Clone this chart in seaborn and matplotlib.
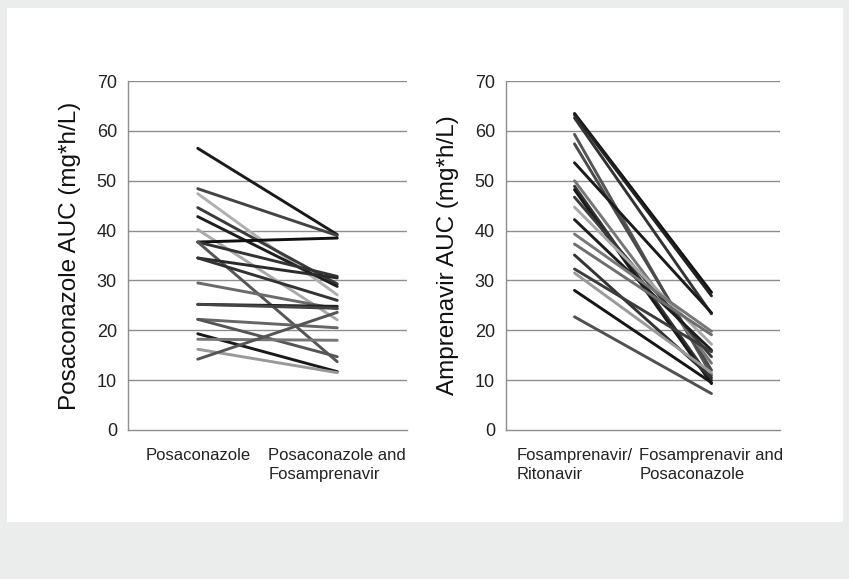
import pandas as pd
import matplotlib
matplotlib.use("Agg")
import matplotlib.pyplot as plt
import seaborn as sns
from matplotlib.patches import Rectangle

# values
left_conditions = ["Posaconazole", "Posaconazole and\nFosamprenavir"]
left_before = [56.5, 48.4, 47.4, 44.6, 42.8, 40.2, 37.7, 37.7, 37.7, 34.5,
               34.5, 29.5, 25.2, 25.2, 22.2, 22.2, 19.3, 18.2, 16.2, 14.2]
left_after = [39.2, 39.0, 27.1, 29.3, 28.8, 22.1, 38.5, 30.8, 13.7, 30.5,
              26.0, 24.3, 24.8, 24.4, 20.5, 14.7, 11.7, 18.0, 11.5, 23.6]
left_colors = ["#1a1a1a", "#444444", "#b0b0b0", "#3a3a3a", "#1e1e1e",
               "#aaaaaa", "#111111", "#333333", "#555555", "#2a2a2a",
               "#333333", "#6a6a6a", "#222222", "#444444", "#666666",
               "#555555", "#1a1a1a", "#777777", "#999999", "#555555"]

right_conditions = ["Fosamprenavir/\nRitonavir", "Fosamprenavir and\nPosaconazole"]
right_before = [63.5, 63.2, 62.6, 59.3, 57.4, 53.6, 50.0, 48.9, 48.2, 46.7,
                44.7, 42.2, 39.3, 37.3, 35.1, 32.3, 31.5, 28.0, 22.7]
right_after = [27.6, 26.9, 23.3, 11.0, 12.0, 23.5, 13.4, 10.0, 9.3, 14.7,
               17.2, 16.0, 19.8, 19.1, 10.5, 15.7, 11.5, 9.5, 7.3]
right_colors = ["#111111", "#222222", "#333333", "#555555", "#4a4a4a",
                "#1a1a1a", "#777777", "#333333", "#1a1a1a", "#3a3a3a",
                "#a8a8a8", "#1e1e1e", "#777777", "#6e6e6e", "#333333",
                "#3c3c3c", "#9a9a9a", "#151515", "#505050"]

y_ticks = [0, 10, 20, 30, 40, 50, 60, 70]

sns.set_style("white")
plt.rcParams["font.family"] = ["Liberation Sans Narrow", "Liberation Sans", "DejaVu Sans"]


def long_table(conds, before, after):
    rows = []
    for i, (b, a) in enumerate(zip(before, after)):
        rows.append({"subject": i, "cond": conds[0], "auc": b})
        rows.append({"subject": i, "cond": conds[1], "auc": a})
    return pd.DataFrame(rows)


fig = plt.figure(figsize=(8.49, 5.79), dpi=100, facecolor="#ebeded")
fig.patches.append(Rectangle((7 / 849, 57 / 579), 836 / 849, 514 / 579,
                             transform=fig.transFigure, facecolor="white",
                             edgecolor="none", zorder=-10))

ax1 = fig.add_axes([128 / 849, 149 / 579, 279 / 849, 349 / 579])
ax2 = fig.add_axes([506 / 849, 149 / 579, 274 / 849, 349 / 579])

panels = [
    (ax1, left_conditions, left_before, left_after, left_colors, "Posaconazole AUC (mg*h/L)"),
    (ax2, right_conditions, right_before, right_after, right_colors, "Amprenavir AUC (mg*h/L)"),
]

for ax, conds, before, after, colors, ylabel in panels:
    df = long_table(conds, before, after)
    ax.set_facecolor("none")
    sns.lineplot(data=df, x="cond", y="auc", hue="subject", units="subject",
                 estimator=None, palette=colors, legend=False, linewidth=2.1,
                 ax=ax, zorder=3)
    ax.set_xlim(-0.5, 1.5)
    ax.set_ylim(0, 70)
    ax.set_yticks(y_ticks)
    ax.set_yticklabels([str(t) for t in y_ticks], fontsize=13, color="#222222")
    for t in y_ticks[1:]:
        ax.axhline(t, color="#8e8e8e", linewidth=1, zorder=1)
    ax.set_xticks([0, 1])
    ax.set_xticklabels(conds, fontsize=12, color="#222222",
                       ha="center", multialignment="left", va="top",
                       linespacing=1.3)
    ax.set_xticks([-0.5, 0.5, 1.5], minor=True)
    ax.tick_params(axis="x", which="major", length=0, pad=13)
    ax.tick_params(axis="x", which="minor", length=5, color="#888888", width=1)
    ax.tick_params(axis="y", length=5, color="#888888", width=1, pad=3)
    for side in ["top", "right"]:
        ax.spines[side].set_visible(False)
    for side in ["left", "bottom"]:
        ax.spines[side].set_color("#8e8e8e")
        ax.spines[side].set_linewidth(1)
    ax.set_xlabel("")
    ax.set_ylabel(ylabel, fontsize=17.5, color="#111111",
                  family=["Liberation Sans", "DejaVu Sans"], labelpad=11)

fig.savefig("out.png", dpi=100, facecolor=fig.get_facecolor())
